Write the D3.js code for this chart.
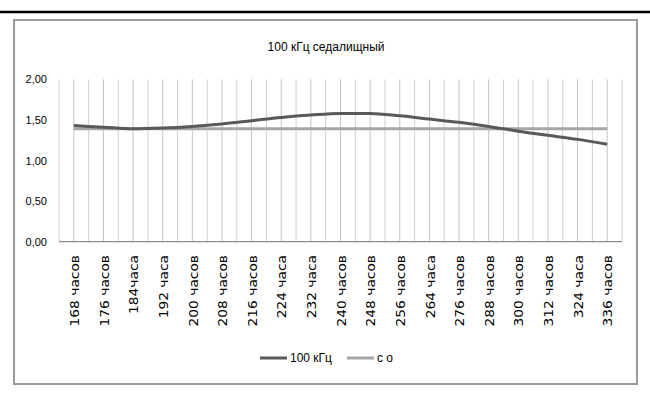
<!DOCTYPE html>
<html>
<head>
<meta charset="utf-8">
<script src="https://cdn.jsdelivr.net/npm/d3@7"></script>
<style>
  html, body { margin: 0; padding: 0; background: #fff; }
  svg { display: block; }
</style>
</head>
<body>
<svg id="chart" width="650" height="407"></svg>
<script>
// Hours of exposure (category axis)
const categories = ["168 часов", "176 часов", "184часа", "192 часа", "200 часов", "208 часов",
  "216 часов", "224 часа", "232 часа", "240 часов", "248 часов", "256 часов", "264 часа",
  "276 часов", "288 часов", "300 часов", "312 часов", "324 часа", "336 часов"];

// Series values
const seriesNames = ["100 кГц", "с о"];
const values100k = [1.43, 1.41, 1.39, 1.40, 1.42, 1.45, 1.49, 1.53, 1.56, 1.58, 1.58,
  1.55, 1.51, 1.47, 1.42, 1.36, 1.31, 1.26, 1.20];
const valuesCo = [1.39, 1.39, 1.39, 1.39, 1.39, 1.39, 1.39, 1.39, 1.39, 1.39, 1.39,
  1.39, 1.39, 1.39, 1.39, 1.39, 1.39, 1.39, 1.39];
const yTicks = [0, 0.5, 1, 1.5, 2];
const title = "100 кГц седалищный";

const svg = d3.select("#chart");
const fmt = v => d3.format(".2f")(v).replace(".", ",");

// Rule across the top of the page
svg.append("line").attr("x1", 0).attr("x2", 650).attr("y1", 12).attr("y2", 12)
  .attr("stroke", "#000").attr("stroke-width", 2.4);

// Chart frame
svg.append("rect").attr("x", 14).attr("y", 20).attr("width", 623).attr("height", 364)
  .attr("fill", "#fff").attr("stroke", "#9a9a9a").attr("stroke-width", 2);

const plot = { left: 59, right: 622, top: 79.3, bottom: 241.7 };

const x = d3.scaleBand().domain(categories).range([plot.left, plot.right]).padding(0);
const y = d3.scaleLinear().domain([0, 2]).range([plot.bottom, plot.top]);
const cx = c => x(c) + x.bandwidth() / 2;

// Title
svg.append("text").attr("x", 326).attr("y", 51).attr("text-anchor", "middle")
  .attr("font-family", "Liberation Sans, Arial, sans-serif").attr("font-size", 12)
  .attr("fill", "#000").text(title);

// Vertical gridlines: category boundaries and centres
const bounds = categories.map(c => x(c)).concat([plot.right]);
const centres = categories.map(cx);
const grid = svg.append("g");
grid.selectAll("line.b").data(bounds).join("line").attr("class", "b")
  .attr("x1", d => d).attr("x2", d => d).attr("y1", y(2)).attr("y2", y(0))
  .attr("stroke", "#d0d0d0").attr("stroke-width", 1);
grid.selectAll("line.c").data(centres).join("line").attr("class", "c")
  .attr("x1", d => d).attr("x2", d => d).attr("y1", y(2)).attr("y2", y(0))
  .attr("stroke", "#c4c4c4").attr("stroke-width", 1);

// Category axis line
svg.append("line").attr("x1", plot.left).attr("x2", plot.right)
  .attr("y1", y(0)).attr("y2", y(0)).attr("stroke", "#8c8c8c").attr("stroke-width", 1.2);

// Value axis labels
const yAxis = d3.axisLeft(y).tickValues(yTicks).tickFormat(fmt).tickSize(0).tickPadding(0);
const yg = svg.append("g").attr("transform", `translate(47,0)`).call(yAxis);
yg.select(".domain").remove();
yg.selectAll("text").attr("font-family", "Liberation Sans, Arial, sans-serif")
  .attr("font-size", 11).attr("fill", "#000");

// Category labels, rotated
const xg = svg.append("g");
xg.selectAll("text").data(categories).join("text")
  .attr("transform", d => `translate(${cx(d) + 1},255) rotate(-90) scale(1.15,1)`)
  .attr("text-anchor", "end").attr("dominant-baseline", "central")
  .attr("font-family", "DejaVu Sans, Verdana, sans-serif").attr("font-size", 12)
  .attr("fill", "#000").text(d => d);

// Series lines
const line = d3.line().x((d, i) => cx(categories[i])).y(d => y(d)).curve(d3.curveMonotoneX);
const series = [
  { name: seriesNames[0], values: values100k, color: "#595959" },
  { name: seriesNames[1], values: valuesCo, color: "#a6a6a6" }
];
svg.append("path").datum(series[1].values).attr("d", line).attr("fill", "none")
  .attr("stroke", series[1].color).attr("stroke-width", 3);
svg.append("path").datum(series[0].values).attr("d", line).attr("fill", "none")
  .attr("stroke", series[0].color).attr("stroke-width", 3);

// Legend
const legendX = [260, 347];
const lg = svg.append("g");
series.forEach((s, i) => {
  lg.append("line").attr("x1", legendX[i]).attr("x2", legendX[i] + 27)
    .attr("y1", 358).attr("y2", 358).attr("stroke", s.color).attr("stroke-width", 3);
  lg.append("text").attr("x", legendX[i] + 30).attr("y", 362)
    .attr("font-family", "Liberation Sans, Arial, sans-serif").attr("font-size", 12)
    .attr("fill", "#000").text(s.name);
});
</script>
</body>
</html>
